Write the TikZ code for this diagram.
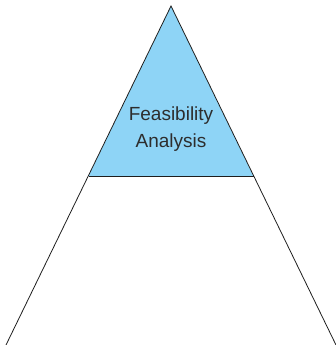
\documentclass[tikz,border=0pt]{standalone}
\usepackage{fontspec}
\setmainfont{Liberation Sans}
\definecolor{skyfill}{RGB}{142,212,246}
\definecolor{textgray}{RGB}{45,45,45}
\definecolor{linegray}{RGB}{30,30,30}
\begin{document}
\begin{tikzpicture}[x=1pt,y=-1pt,
  edge/.style={draw=linegray,line width=0.8pt},
  lbl/.style={text=textgray,font=\fontsize{19}{27}\selectfont,align=center,inner sep=0pt}]
\useasboundingbox (0,0) rectangle (335,345);
\coordinate (apex) at (171,6);
\coordinate (fl) at (88.5,176);
\coordinate (fr) at (253.5,176);
\coordinate (bl) at (6,345);
\coordinate (br) at (336,345);
\fill[skyfill] (apex) -- (fl) -- (fr) -- cycle;
\draw[edge] (bl) -- (apex) -- (br);
\draw[edge] (fl) -- (fr);
\node[lbl] (label) at (171,129.5) {Feasibility\\Analysis};
\end{tikzpicture}
\end{document}
